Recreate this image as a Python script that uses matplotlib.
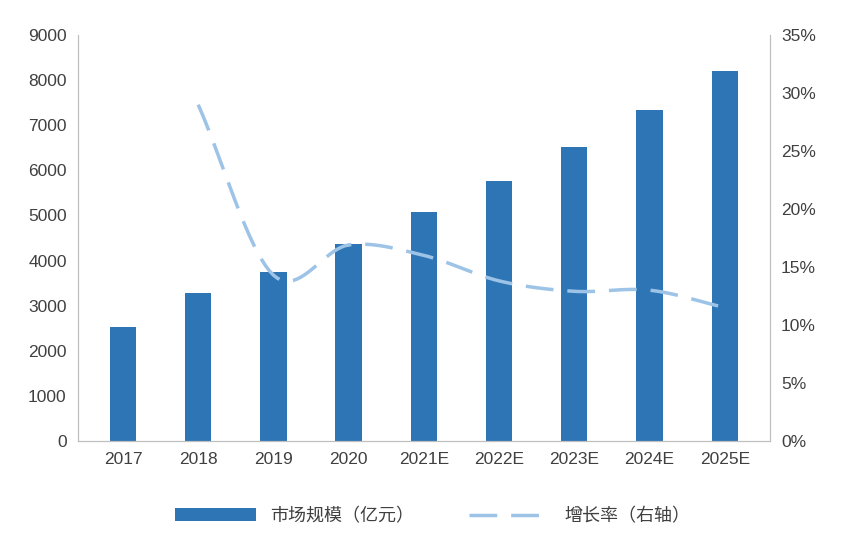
import numpy as np
import matplotlib
matplotlib.use("Agg")
import matplotlib.pyplot as plt

plt.rcParams["font.family"] = ["Liberation Sans", "Noto Sans CJK SC", "Noto Sans CJK JP",
                               "Noto Sans CJK TC", "Noto Sans CJK KR", "DejaVu Sans"]

years = ["2017", "2018", "2019", "2020", "2021E", "2022E", "2023E", "2024E", "2025E"]
market = [2530, 3270, 3740, 4370, 5070, 5770, 6510, 7350, 8200]
growth = [None, 29.0, 14.3, 16.9, 16.0, 13.8, 12.9, 13.0, 11.5]

fig = plt.figure(figsize=(8.65, 5.49), dpi=100)
ax = fig.add_axes([0.09, 0.197, 0.80, 0.739])
x = np.arange(len(years))
ax.bar(x, market, width=0.35, color="#2e75b6", label="市场规模（亿元）", zorder=2)
ax.set_ylim(0, 9000)
ax.set_yticks(range(0, 9001, 1000))
ax.set_xlim(-0.6, len(years) - 0.4)
ax.set_xticks(x)
ax.set_xticklabels(years)
ax.spines["top"].set_visible(False)
for s in ["left", "right", "bottom"]:
    ax.spines[s].set_color("#bfbfbf")
ax.tick_params(length=0, labelsize=12.5, colors="#404040", pad=8)

ax2 = ax.twinx()
gx = np.array([i for i, g in enumerate(growth) if g is not None], float)
gy = np.array([g for g in growth if g is not None], float)
px, py = [], []
P = np.column_stack([gx, gy])
Pe = np.vstack([2 * P[0] - P[1], P, 2 * P[-1] - P[-2]])
t = np.linspace(0, 1, 20)
for i in range(1, len(Pe) - 2):
    p0, p1, p2, p3 = Pe[i - 1], Pe[i], Pe[i + 1], Pe[i + 2]
    seg = 0.5 * ((2 * p1)[None] + (-p0 + p2)[None] * t[:, None]
                 + (2 * p0 - 5 * p1 + 4 * p2 - p3)[None] * t[:, None] ** 2
                 + (-p0 + 3 * p1 - 3 * p2 + p3)[None] * t[:, None] ** 3)
    px.extend(seg[:, 0]); py.extend(seg[:, 1])
ax2.plot(px, py, color="#9dc3e6", lw=2.5, dashes=(8, 4), label="增长率（右轴）")
ax2.set_ylim(0, 35)
ax2.set_yticks(range(0, 36, 5))
ax2.set_yticklabels([f"{v}%" for v in range(0, 36, 5)])
ax2.tick_params(length=0, labelsize=12.5, colors="#404040", pad=8)
ax2.spines["top"].set_visible(False)
for s in ["left", "right", "bottom"]:
    ax2.spines[s].set_color("#bfbfbf")

h1, l1 = ax.get_legend_handles_labels()
h2, l2 = ax2.get_legend_handles_labels()
fig.legend(h1 + h2, l1 + l2, loc="center", bbox_to_anchor=(0.5, 0.06), ncol=2,
           frameon=False, fontsize=13, handlelength=4.5, columnspacing=3,
           labelcolor="#404040", prop={"family": ["Noto Sans CJK SC", "Noto Sans CJK JP", "DejaVu Sans"], "size": 13})
fig.savefig("out.png", dpi=100)
